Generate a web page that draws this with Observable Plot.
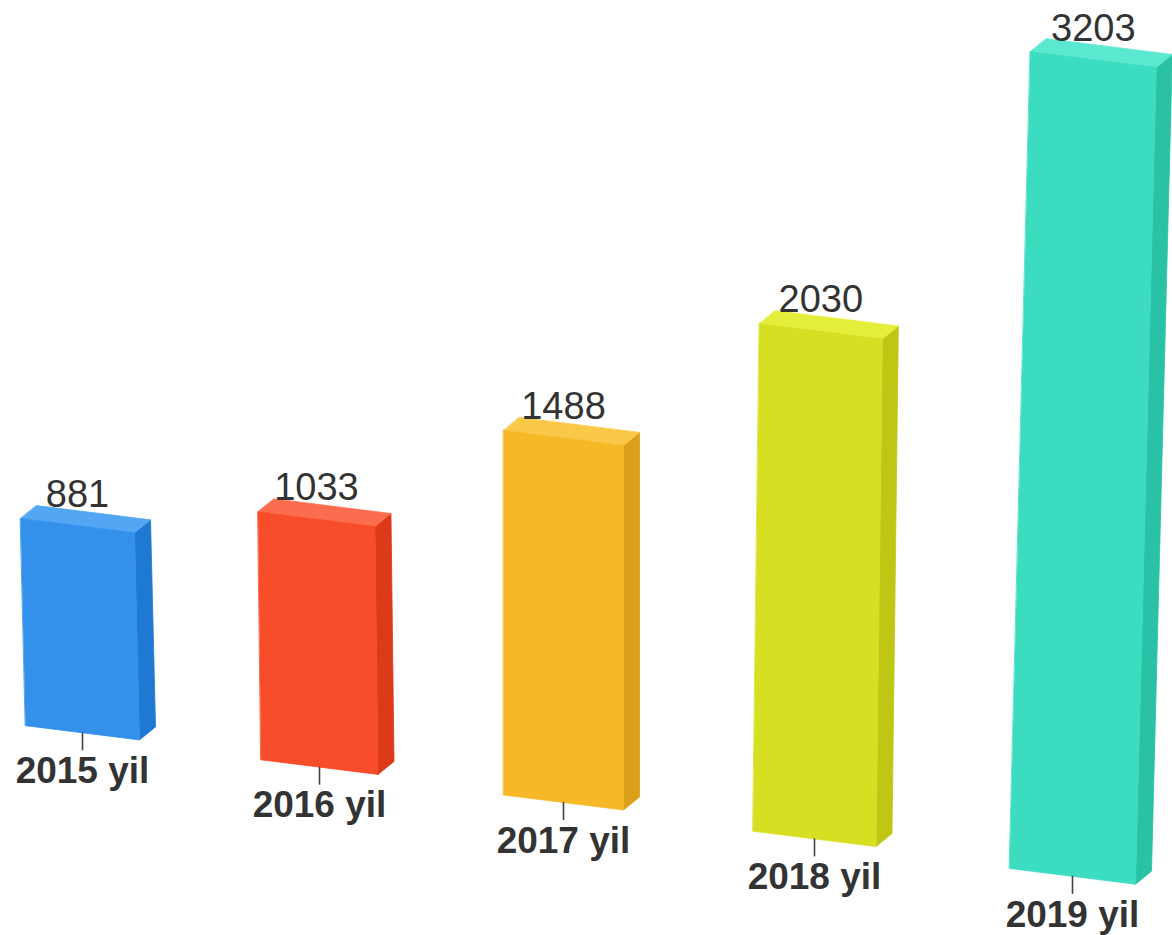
<!DOCTYPE html>
<html>
<head>
<meta charset="utf-8">
<script src="https://cdn.jsdelivr.net/npm/d3@7"></script>
<script src="https://cdn.jsdelivr.net/npm/@observablehq/plot@0.6"></script>
<style>
  html, body { margin: 0; padding: 0; background: #ffffff; }
  #chart svg { display: block; }
</style>
</head>
<body>
<div id="chart"></div>
<script>
// ---- data ----
const categories = ["2015 yil", "2016 yil", "2017 yil", "2018 yil", "2019 yil"];
const values = [881, 1033, 1488, 2030, 3203];
const frontColors = ["#3391eb", "#f74d2a", "#f6b827", "#d7df22", "#3cdcc1"];
const sideColors  = ["#1f78d2", "#dc3a18", "#dc9f1a", "#bfc714", "#29c2a6"];
const topColors   = ["#52a6f2", "#fb6d4e", "#fbc94a", "#e6ee3c", "#5ae8d0"];

// ---- chart geometry (pseudo-3D projection) ----
const W = 1172, H = 935;
const X0 = 563, SLOT = 247.5;      // px of centre slot, px per slot
const Y0 = 802, K0 = 0.245;        // baseline px at centre, px per unit
const xDomain = [2 - X0 / SLOT, 2 + (W - X0) / SLOT];
const yDomain = [-(H - Y0) / K0, Y0 / K0];

// project (bar index, edge side -1..1, value, depth 0..1) -> scale units
function proj(i, side, v, z) {
  const t = i - 2;
  const cx = X0 + SLOT * t + 3.5 * t * t;
  const hw = 60 + 1.5 * t;
  const k = K0 + 0.005 * t;
  const hpx = k * v;
  const lean = 5e-5 * (cx - X0) * hpx;
  const px = cx + side * hw + lean + z * 16;
  const base = Y0 + 0.145 * (cx - X0);
  const py = base + 0.125 * side * hw - hpx - z * 13;
  return { x: 2 + (px - X0) / SLOT, y: (Y0 - py) / K0 };
}

const faces = [];
values.forEach((v, i) => {
  const add = (name, color, pts) =>
    pts.forEach(([s, vv, z]) => faces.push({ id: name + i, color, ...proj(i, s, vv, z) }));
  add("side", sideColors[i], [[1, v, 0], [1, v, 1], [1, 0, 1], [1, 0, 0]]);
  add("top", topColors[i], [[-1, v, 0], [1, v, 0], [1, v, 1], [-1, v, 1]]);
  add("front", frontColors[i], [[-1, 0, 0], [1, 0, 0], [1, v, 0], [-1, v, 0]]);
});

const ticks = values.map((v, i) => {
  const k = K0 + 0.005 * (i - 2);
  const a = proj(i, 0, 0, 0), b = proj(i, 0, -18 / k, 0);
  return { x: a.x, y1: a.y, y2: b.y, label: categories[i] };
});
const valueLabels = values.map((v, i) => ({ ...proj(i, 0, v, 0), label: String(v) }));

const chart = Plot.plot({
  width: W,
  height: H,
  margin: 0,
  x: { domain: xDomain, axis: null },
  y: { domain: yDomain, axis: null },
  color: { type: "identity" },
  style: { background: "#ffffff", fontFamily: "'Liberation Sans', Arial, sans-serif" },
  marks: [
    Plot.line(faces, { x: "x", y: "y", z: "id", fill: "color", stroke: "color", strokeWidth: 0.8, curve: "linear-closed" }),
    Plot.ruleX(ticks, { x: "x", y1: "y1", y2: "y2", stroke: "#444444", strokeWidth: 1.6 }),
    Plot.text(ticks, { x: "x", y: "y2", text: "label", lineAnchor: "top", dy: 6, fontSize: 37, fontWeight: "bold", fill: "#333333" }),
    Plot.text(valueLabels, { x: "x", y: "y", text: "label", lineAnchor: "bottom", dy: -19, fontSize: 38, fill: "#333333" })
  ]
});
document.getElementById("chart").appendChild(chart);
</script>
</body>
</html>
